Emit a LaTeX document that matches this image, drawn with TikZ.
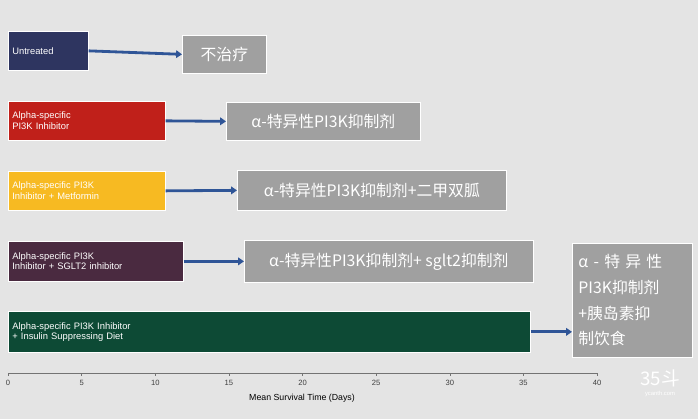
\documentclass[tikz,border=0pt]{standalone}
\usepackage{fontspec}
\setmainfont{Liberation Sans}
\newfontfamily\cjk{Noto Sans CJK SC}
\usetikzlibrary{positioning,arrows.meta}
\definecolor{bgcol}{HTML}{E4E4E4}
\definecolor{navybar}{HTML}{2E3560}
\definecolor{redbar}{HTML}{C0201A}
\definecolor{yellowbar}{HTML}{F7BA22}
\definecolor{plumbar}{HTML}{4A2A40}
\definecolor{greenbar}{HTML}{0D4A35}
\definecolor{boxgray}{HTML}{A0A0A0}
\definecolor{arrowblue}{HTML}{2F5597}
\tikzset{
  bar/.style={draw=white, line width=0.6pt, anchor=north west, text=white, font=\fontsize{8}{9}\selectfont,
    align=left, inner xsep=3pt},
  resultbox/.style={draw=white, line width=0.6pt, fill=boxgray, text=white, anchor=north west,
    font=\cjk\fontsize{13.5}{17}\selectfont, inner sep=0pt},
  link/.style={-{Triangle[length=5pt,width=6.5pt]}, arrowblue, line width=2.4pt}
}
\begin{document}
\begin{tikzpicture}[x=0.03cm,y=-0.03cm]
  \fill[bgcol] (0,0) rectangle (698,419);
  % bars
  \node[bar, fill=navybar, minimum width=80*0.03cm, minimum height=39*0.03cm, text width=72*0.03cm] (untreated) at (8,31) {Untreated};
  \node[bar, fill=redbar, minimum width=157*0.03cm, minimum height=39*0.03cm, text width=149*0.03cm] (alpha) at (8,101) {Alpha-specific\\PI3K Inhibitor};
  \node[bar, fill=yellowbar, minimum width=157*0.03cm, minimum height=39*0.03cm, text width=149*0.03cm] (metformin) at (8,171) {Alpha-specific PI3K\\Inhibitor + Metformin};
  \node[bar, fill=plumbar, minimum width=175*0.03cm, minimum height=40*0.03cm, text width=167*0.03cm] (sglt) at (8,241) {Alpha-specific PI3K\\Inhibitor + SGLT2 inhibitor};
  \node[bar, fill=greenbar, minimum width=522*0.03cm, minimum height=41*0.03cm, text width=514*0.03cm] (diet) at (8,311) {Alpha-specific PI3K Inhibitor\\+ Insulin Suppressing Diet};
  % result boxes
  \node[resultbox, minimum width=84*0.03cm, minimum height=38*0.03cm] (r1) at (182,35) {不治疗};
  \node[resultbox, minimum width=194*0.03cm, minimum height=38*0.03cm] (r2) at (226,102) {α-特异性PI3K抑制剂};
  \node[resultbox, minimum width=269*0.03cm, minimum height=40*0.03cm] (r3) at (237,170) {α-特异性PI3K抑制剂+二甲双胍};
  \node[resultbox, minimum width=289*0.03cm, minimum height=42*0.03cm] (r4) at (244,240) {α-特异性PI3K抑制剂+ sglt2抑制剂};
  \node[resultbox, minimum width=120*0.03cm, minimum height=114*0.03cm, align=left, text width=108*0.03cm,
    font=\cjk\fontsize{13.5}{22}\selectfont] (r5) at (572,243) {α - 特 异 性\\PI3K抑制剂\\+胰岛素抑\\制饮食};
  % arrows
  \draw[link] (untreated.east) -- (r1.west);
  \draw[link] (alpha.east) -- (r2.west);
  \draw[link] (metformin.east) -- (r3.west);
  \draw[link] (sglt.east) -- (r4.west);
  \draw[link] (diet.east) -- (r5.west |- diet.east);
  % axis
  \draw[black!55, line width=0.6pt] (8,373) -- (597,373);
  \foreach \d in {0,5,...,40} {
    \draw[black!55] (8+\d*14.725,373) -- (8+\d*14.725,376);
    \node[font=\fontsize{6.5}{7}\selectfont, text=black!75] at (8+\d*14.725,383) {\d};
  }
  \node[font=\fontsize{7.5}{8}\selectfont] (axislabel) at (302,398) {Mean Survival Time (Days)};
  % watermark
  \node[text=white, font=\cjk\fontsize{16}{16}\selectfont] (mark) at (660,378) {35斗};
  \node[text=white, font=\fontsize{5}{5}\selectfont] (site) at (660,394) {ycanth.com};
\end{tikzpicture}
\end{document}
